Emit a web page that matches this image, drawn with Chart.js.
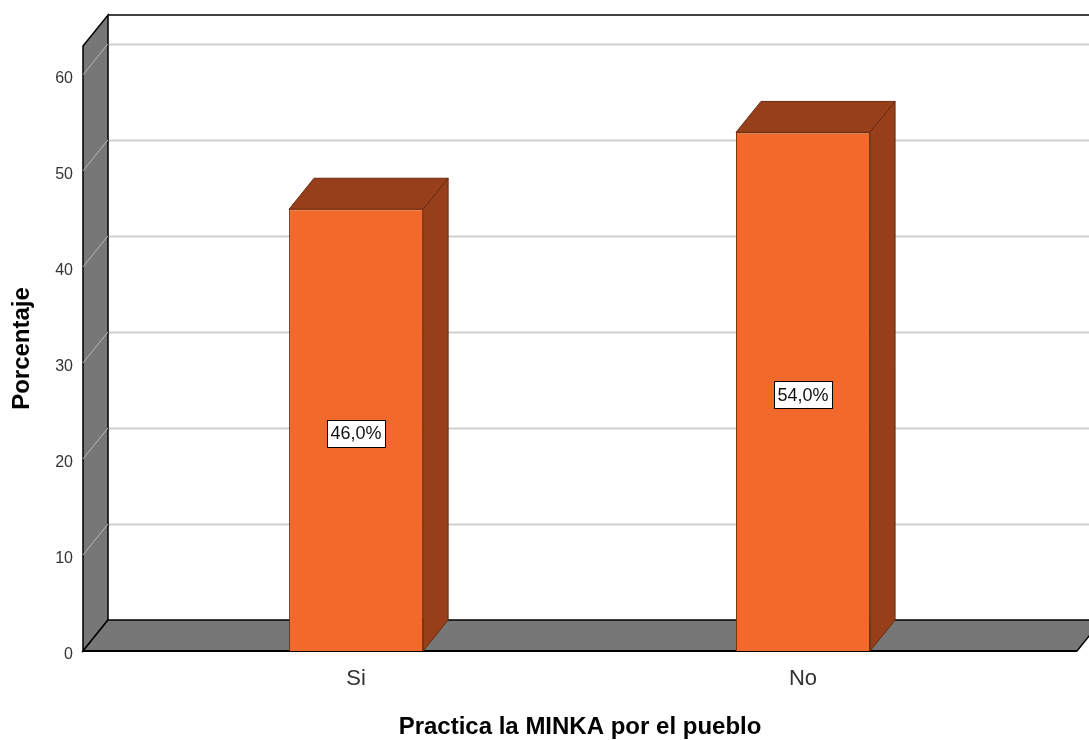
<!DOCTYPE html>
<html>
<head>
<meta charset="utf-8">
<script src="https://cdn.jsdelivr.net/npm/chart.js@4.4.1/dist/chart.umd.min.js"></script>
<style>
  html, body { margin: 0; padding: 0; background: #ffffff; }
  #c { display: block; }
</style>
</head>
<body>
<canvas id="c" width="1089" height="740"></canvas>
<script>
// ---- data ----
const categories = ['Si', 'No'];
const values = [46.0, 54.0];
const yTickValues = [0, 10, 20, 30, 40, 50, 60];
const yAxisTitle = 'Porcentaje';
const xAxisTitle = 'Practica la MINKA por el pueblo';

// ---- style ----
const FONT = "'Liberation Sans', Arial, sans-serif";
const DX = 25, DY = -31;
const WALL = '#777777';
const FRONT = '#F2692C';
const SHADE = '#963F1A';

const fmt = v => v.toFixed(1).replace('.', ',') + '%';

const threeD = {
  id: 'threeD',
  beforeDatasetsDraw(chart) {
    const { ctx, chartArea: a, scales: { y } } = chart;
    const W = chart.width;
    const top = a.top, bottom = a.bottom, left = a.left, right = a.right;
    ctx.save();
    // back wall gridlines
    ctx.strokeStyle = '#cfcfcf';
    ctx.lineWidth = 2;
    yTickValues.forEach(v => {
      if (v === 0) return;
      const py = Math.round(y.getPixelForValue(v) + DY) + 0.5;
      ctx.beginPath();
      ctx.moveTo(left + DX, py);
      ctx.lineTo(W, py);
      ctx.stroke();
    });
    // back wall top edge
    ctx.strokeStyle = '#000';
    ctx.lineWidth = 1.5;
    ctx.beginPath();
    ctx.moveTo(left + DX, top + DY);
    ctx.lineTo(W, top + DY);
    ctx.stroke();
    // left wall
    ctx.fillStyle = WALL;
    ctx.beginPath();
    ctx.moveTo(left, top);
    ctx.lineTo(left + DX, top + DY);
    ctx.lineTo(left + DX, bottom + DY);
    ctx.lineTo(left, bottom);
    ctx.closePath();
    ctx.fill();
    ctx.stroke();
    // left wall diagonal gridlines
    ctx.strokeStyle = '#b8b8b8';
    ctx.lineWidth = 1;
    yTickValues.forEach(v => {
      if (v === 0) return;
      const py = y.getPixelForValue(v);
      ctx.beginPath();
      ctx.moveTo(left, py);
      ctx.lineTo(left + DX, py + DY);
      ctx.stroke();
    });
    // floor
    ctx.fillStyle = WALL;
    ctx.strokeStyle = '#000';
    ctx.lineWidth = 1.5;
    ctx.beginPath();
    ctx.moveTo(left, bottom);
    ctx.lineTo(left + DX, bottom + DY);
    ctx.lineTo(right + DX, bottom + DY);
    ctx.lineTo(right, bottom);
    ctx.closePath();
    ctx.fill();
    ctx.stroke();
    ctx.lineWidth = 2;
    ctx.beginPath();
    ctx.moveTo(left, bottom);
    ctx.lineTo(right, bottom);
    ctx.stroke();
    ctx.restore();
  },
  afterDatasetsDraw(chart) {
    const { ctx, scales: { y } } = chart;
    const meta = chart.getDatasetMeta(0);
    ctx.save();
    meta.data.forEach((bar, i) => {
      const p = bar.getProps(['x', 'y', 'base', 'width'], true);
      const l = p.x - p.width / 2, r = p.x + p.width / 2;
      ctx.fillStyle = SHADE;
      ctx.strokeStyle = '#6a2a0d';
      ctx.lineWidth = 1;
      // top face
      ctx.beginPath();
      ctx.moveTo(l, p.y);
      ctx.lineTo(l + DX, p.y + DY);
      ctx.lineTo(r + DX, p.y + DY);
      ctx.lineTo(r, p.y);
      ctx.closePath();
      ctx.fill();
      ctx.stroke();
      // side face
      ctx.beginPath();
      ctx.moveTo(r, p.y);
      ctx.lineTo(r + DX, p.y + DY);
      ctx.lineTo(r + DX, p.base + DY);
      ctx.lineTo(r, p.base);
      ctx.closePath();
      ctx.fill();
      ctx.stroke();
      // value label
      const txt = fmt(values[i]);
      ctx.font = '18px ' + FONT;
      const tw = ctx.measureText(txt).width;
      const cy = y.getPixelForValue(values[i] / 2) + 3;
      const bw = tw + 7, bh = 27;
      const bx = Math.round(p.x - bw / 2) + 0.5, by = Math.round(cy - bh / 2) + 0.5;
      ctx.fillStyle = '#fff';
      ctx.fillRect(bx, by, bw, bh);
      ctx.strokeStyle = '#000';
      ctx.lineWidth = 1;
      ctx.strokeRect(bx, by, bw, bh);
      ctx.fillStyle = '#111';
      ctx.textAlign = 'center';
      ctx.textBaseline = 'middle';
      ctx.fillText(txt, p.x, cy + 1);
    });
    ctx.restore();
  }
};

new Chart(document.getElementById('c'), {
  type: 'bar',
  data: {
    datasets: [{
      data: categories.map((c, i) => ({ x: i, y: values[i] })),
      backgroundColor: FRONT,
      borderColor: '#7a3211',
      borderWidth: 1,
      barPercentage: 0.3,
      categoryPercentage: 1
    }]
  },
  options: {
    responsive: false,
    devicePixelRatio: 1,
    animation: false,
    layout: { padding: { left: 0, top: 46, right: 12, bottom: 0 } },
    plugins: { legend: { display: false }, tooltip: { enabled: false } },
    scales: {
      x: {
        type: 'linear',
        offset: false,
        min: -0.611,
        max: 1.613,
        grid: { display: false, drawTicks: false, offset: false },
        border: { display: false },
        afterBuildTicks: s => { s.ticks = categories.map((c, i) => ({ value: i })); },
        afterFit: s => { s.height = 89; },
        ticks: {
          autoSkip: false,
          maxRotation: 0,
          callback: v => categories[v],
          font: { family: FONT, size: 22 },
          color: '#333',
          padding: 15
        },
        title: {
          display: true,
          text: xAxisTitle,
          font: { family: FONT, size: 24, weight: 'bold' },
          color: '#000',
          padding: { top: 4, bottom: -2 }
        }
      },
      y: {
        min: 0,
        max: 63,
        grid: { display: false, drawTicks: false },
        border: { display: false },
        afterBuildTicks: s => { s.ticks = yTickValues.map(v => ({ value: v })); },
        afterFit: s => { s.width = 83; },
        ticks: {
          font: { family: FONT, size: 16 },
          color: '#333',
          padding: 10,
          labelOffset: 4
        },
        title: {
          display: true,
          text: yAxisTitle,
          font: { family: FONT, size: 24, weight: 'bold' },
          color: '#000',
          padding: { top: 8, bottom: 4 }
        }
      }
    }
  },
  plugins: [threeD]
});
</script>
</body>
</html>
